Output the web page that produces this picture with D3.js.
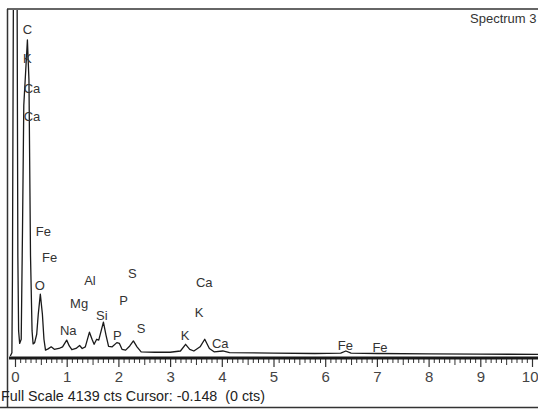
<!DOCTYPE html>
<html>
<head>
<meta charset="utf-8">
<script src="https://cdn.jsdelivr.net/npm/d3@7/dist/d3.min.js"></script>
<style>
  html, body { margin: 0; padding: 0; background: #fff; }
  svg { display: block; }
  text { font-family: "Liberation Sans", Arial, sans-serif; }
</style>
</head>
<body>
<svg id="chart" width="538" height="409"></svg>
<script>
// EDS spectrum trace: energy (keV) and counts per point
const energy = [-0.09, -0.06, -0.05, -0.03, 0.04, 0.055, 0.07, 0.09, 0.12, 0.145, 0.17, 0.24, 0.27, 0.30, 0.33, 0.35,
  0.38, 0.42, 0.45, 0.49, 0.53, 0.56, 0.59, 0.64, 0.70, 0.76, 0.85, 0.92, 1.00, 1.05, 1.10, 1.18, 1.25, 1.30,
  1.36, 1.44, 1.49, 1.53, 1.58, 1.62, 1.71, 1.76, 1.81, 1.88, 1.97, 2.02, 2.07, 2.14, 2.22, 2.29, 2.36, 2.44,
  2.7, 3.0, 3.2, 3.30, 3.38, 3.46, 3.58, 3.67, 3.76, 3.85, 4.02, 4.15, 5.0, 5.8, 6.3, 6.40, 6.50, 7.0, 8.0, 9.0, 10.2];
const counts = [0, 40, 900, 4500, 4500, 1200, 300, 150, 200, 1500, 3000, 3780, 3300, 1200, 300, 145,
  160, 260, 500, 740, 500, 200, 70, 85, 110, 80, 90, 110, 190, 120, 75, 90, 125, 90,
  110, 285, 200, 140, 200, 190, 405, 250, 115, 110, 160, 150, 80, 70, 120, 180, 110, 50,
  45, 45, 60, 140, 80, 60, 110, 200, 90, 50, 60, 40, 35, 30, 35, 60, 35, 30, 25, 22, 20];

// Element line markers: name, line energy (keV), label height (counts)
const labelNames    = ["C", "K", "Ca", "Ca", "Fe", "Fe", "O", "Al", "S", "Mg", "P", "Si", "Na", "P", "S", "Ca", "K", "K", "Ca", "Fe", "Fe"];
const labelEnergies = [0.24, 0.24, 0.33, 0.33, 0.55, 0.67, 0.48, 1.45, 2.27, 1.24, 2.10, 1.68, 1.03, 1.98, 2.44, 3.66, 3.56, 3.29, 3.97, 6.39, 7.06];
const labelCounts   = [3850, 3510, 3150, 2810, 1430, 1130, 790, 850, 930, 570, 610, 430, 250, 190, 280, 820, 470, 190, 100, 70, 50];

// Axis ticks (keV)
const majorTicks = [0, 1, 2, 3, 4, 5, 6, 7, 8, 9, 10];
const fullScale = 4139;
const statusText = "Full Scale 4139 cts Cursor: -0.148  (0 cts)";
const titleText = "Spectrum 3";

const svg = d3.select("#chart");
const W = 538, H = 409;

const x = d3.scaleLinear().domain([0, 10]).range([15, 532]);
const y = d3.scaleLinear().domain([0, fullScale]).range([356, 10]);

svg.append("rect").attr("width", W).attr("height", H).attr("fill", "#fff");

svg.append("defs").append("clipPath").attr("id", "plotClip")
  .append("rect").attr("x", 9).attr("y", 10).attr("width", W - 9).attr("height", 347);

// outer frame
svg.append("line").attr("x1", 7).attr("x2", W).attr("y1", 9).attr("y2", 9)
  .attr("stroke", "#333").attr("stroke-width", 1.5);
svg.append("line").attr("x1", 7.5).attr("x2", 7.5).attr("y1", 9).attr("y2", 407)
  .attr("stroke", "#333").attr("stroke-width", 1.5);
svg.append("line").attr("x1", 0).attr("x2", W).attr("y1", 407.5).attr("y2", 407.5)
  .attr("stroke", "#333").attr("stroke-width", 1.5);

// spectrum trace
const line = d3.line().x(d => x(d[0])).y(d => y(d[1]));
svg.append("path")
  .datum(d3.zip(energy, counts))
  .attr("clip-path", "url(#plotClip)")
  .attr("fill", "none")
  .attr("stroke", "#1a1a1a")
  .attr("stroke-width", 1.3)
  .attr("stroke-linejoin", "round")
  .attr("d", line);

// element labels
svg.append("g").selectAll("text")
  .data(d3.zip(labelNames, labelEnergies, labelCounts))
  .join("text")
  .attr("x", d => x(d[1]))
  .attr("y", d => y(d[2]))
  .attr("text-anchor", "middle")
  .attr("font-size", 13)
  .attr("fill", "#333")
  .text(d => d[0]);

// energy axis (ruler)
const axisY = 358;
const minorTicks = d3.range(0, 101).map(i => i / 10).filter(v => !majorTicks.includes(v));
const minorAxis = d3.axisBottom(x).tickValues(minorTicks)
  .tickSize(4).tickFormat("");
const mg = svg.append("g").attr("transform", `translate(0,${axisY + 1})`).call(minorAxis);
mg.select(".domain").remove();
mg.selectAll(".tick line").attr("stroke", "#333").attr("stroke-width", 1)
  .attr("y2", (d) => (Math.round(d * 10) % 5 === 0 ? 6 : 4));

const majorAxis = d3.axisBottom(x).tickValues(majorTicks)
  .tickSize(8).tickPadding(4).tickFormat(d3.format("d"));
const ag = svg.append("g").attr("transform", `translate(0,${axisY + 1})`).call(majorAxis);
ag.select(".domain").remove();
ag.selectAll(".tick line").attr("stroke", "#333").attr("stroke-width", 1.2);
ag.selectAll(".tick text").attr("font-size", 15).attr("fill", "#444")
  .attr("font-family", "'Liberation Sans', Arial, sans-serif")
  .attr("text-anchor", d => (d === 10 ? "end" : "middle"))
  .attr("dx", d => (d === 10 ? 6 : 0));

svg.append("line").attr("x1", 9).attr("x2", W).attr("y1", axisY).attr("y2", axisY)
  .attr("stroke", "#1a1a1a").attr("stroke-width", 3);

// title & status bar
svg.append("text").attr("x", 470).attr("y", 23).attr("font-size", 13).attr("fill", "#333").text(titleText);
svg.append("text").attr("x", 1).attr("y", 401).attr("font-size", 14).attr("fill", "#222")
  .attr("textLength", 264).attr("lengthAdjust", "spacingAndGlyphs")
  .attr("xml:space", "preserve").style("white-space", "pre").text(statusText);
</script>
</body>
</html>
